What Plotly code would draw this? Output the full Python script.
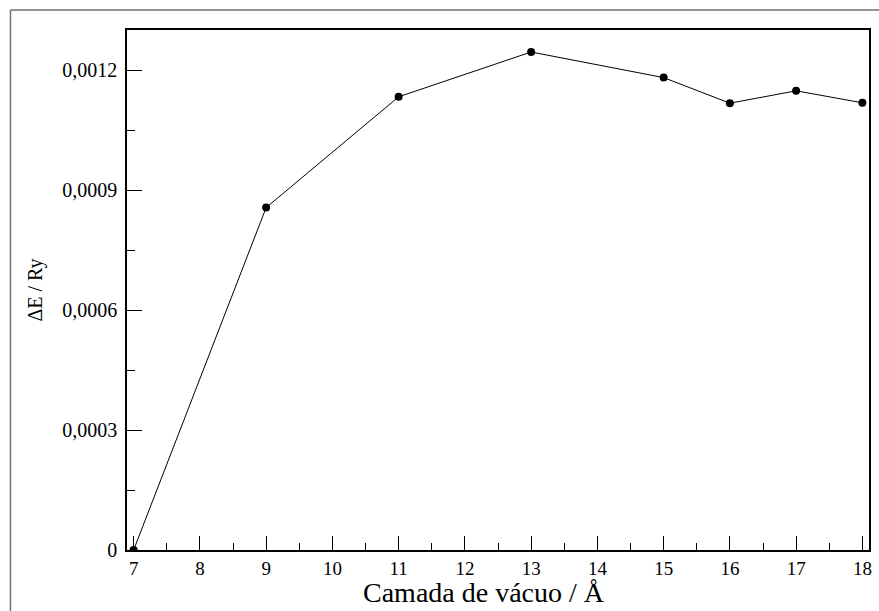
import plotly.graph_objects as go

x_vals = [7, 9, 11, 13, 15, 16, 17, 18]
y_vals = [0.0, 0.000856, 0.001133, 0.001245, 0.001181, 0.001117, 0.001148, 0.001118]
y_tick_vals = [0, 0.0003, 0.0006, 0.0009, 0.0012]
y_tick_text = ["0", "0,0003", "0,0006", "0,0009", "0,0012"]
x_tick_vals = [7, 8, 9, 10, 11, 12, 13, 14, 15, 16, 17, 18]
x_title = "Camada de vácuo / Å"
y_title = "ΔE / Ry"

W, H = 879, 611
L, R, T, B = 127, 7, 30, 61
pw, ph = W - L - R, H - T - B

def px(xp):
    return (xp - L) / pw

def py(yp):
    return (H - B - yp) / ph

font = "Liberation Serif"

fig = go.Figure()
fig.add_trace(go.Scatter(
    x=x_vals, y=y_vals, mode="lines+markers",
    line=dict(color="black", width=1),
    marker=dict(color="black", size=8, symbol="circle"),
    showlegend=False,
))

fig.update_layout(
    width=W, height=H,
    margin=dict(l=L, r=R, t=T, b=B),
    paper_bgcolor="white", plot_bgcolor="white",
    font=dict(family=font, color="black", size=20),
    xaxis=dict(
        range=[6.9, 18.1], tickvals=x_tick_vals,
        ticks="inside", ticklen=14, tickwidth=1.2, tickcolor="black",
        minor=dict(ticks="inside", ticklen=7, tickwidth=1.2, tickcolor="black", dtick=0.5, tick0=7),
        showline=True, linecolor="black", linewidth=1.5, mirror=True,
        showgrid=False, zeroline=False,
        tickfont=dict(family=font, size=19, color="black"),
    ),
    yaxis=dict(
        range=[0, 0.0013], tickvals=y_tick_vals, ticktext=y_tick_text,
        ticks="inside", ticklen=15, tickwidth=1.2, tickcolor="black",
        minor=dict(ticks="inside", ticklen=8, tickwidth=1.2, tickcolor="black", dtick=0.00015, tick0=0),
        showline=True, linecolor="black", linewidth=1.5, mirror=True,
        showgrid=False, zeroline=False,
        ticklabelstandoff=4,
        tickfont=dict(family=font, size=20, color="black"),
        title=dict(text=y_title, font=dict(family=font, size=20, color="black"), standoff=14),
    ),
    annotations=[
        dict(text=x_title, xref="paper", yref="paper",
             x=px(485), y=py(592), xanchor="center", yanchor="middle",
             showarrow=False, font=dict(family=font, size=28, color="black")),
    ],
    shapes=[
        dict(type="line", xref="paper", yref="paper",
             x0=px(10), y0=py(10), x1=px(W + 5), y1=py(10),
             line=dict(color="#707070", width=1.5)),
        dict(type="line", xref="paper", yref="paper",
             x0=px(10), y0=py(10), x1=px(10), y1=py(H + 5),
             line=dict(color="#707070", width=1.5)),
    ],
)

fig.write_html("out.html", config={"displayModeBar": False})

with open("out.html", "r", encoding="utf-8") as f:
    html = f.read()
html = html.replace("<head>", "<head><style>html,body{margin:0;padding:0;overflow:hidden}</style>", 1)
with open("out.html", "w", encoding="utf-8") as f:
    f.write(html)
